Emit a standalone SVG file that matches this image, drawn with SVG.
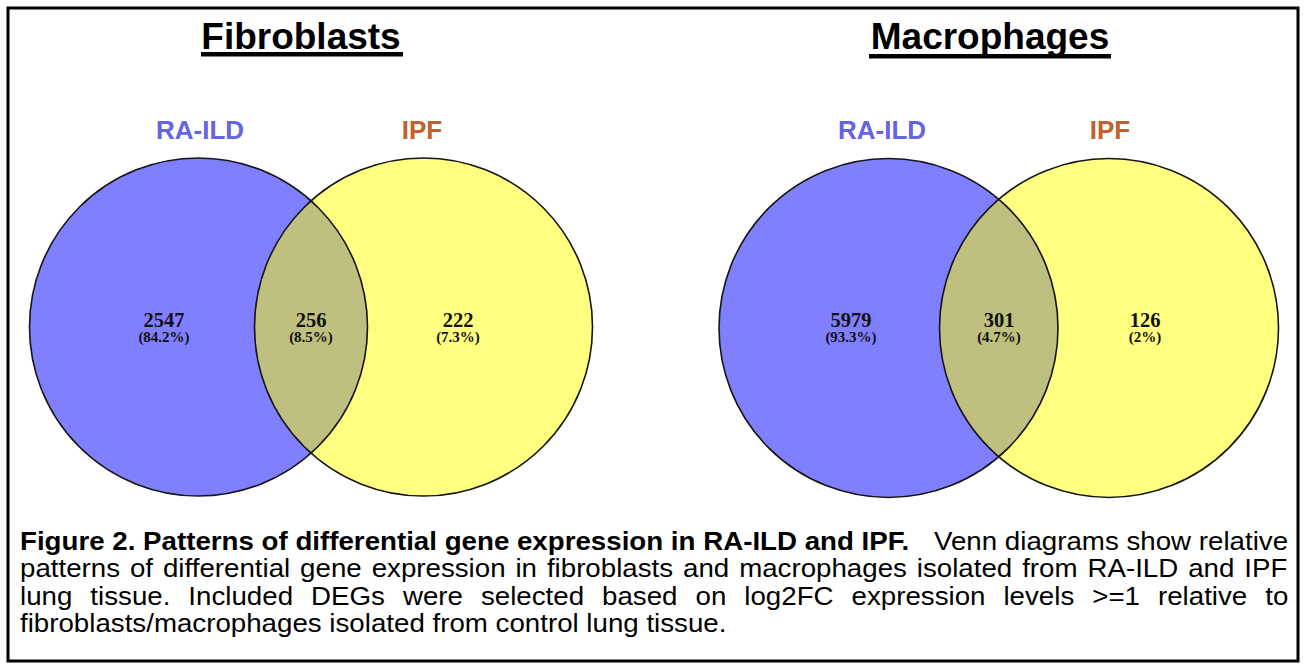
<svg xmlns="http://www.w3.org/2000/svg" width="1306" height="669" viewBox="0 0 1306 669">
  <defs>
    <style>
      .title { font-family: "Liberation Sans", Arial, sans-serif; font-weight: bold; font-size: 37px; fill: #000; text-anchor: middle; }
      .set-ra { font-family: "Liberation Sans", Arial, sans-serif; font-weight: bold; font-size: 26px; fill: #6464e4; text-anchor: middle; }
      .set-ipf { font-family: "Liberation Sans", Arial, sans-serif; font-weight: bold; font-size: 26px; fill: #c0622c; text-anchor: middle; }
      .num { font-family: "Liberation Serif", "Times New Roman", serif; font-weight: bold; font-size: 20.5px; fill: #111; text-anchor: middle; }
      .pct { font-family: "Liberation Serif", "Times New Roman", serif; font-weight: bold; font-size: 15px; fill: #111; text-anchor: middle; }
      .blue { fill: #7f7fff; }
      .yellow { fill: #ffff80; }
      .overlap { fill: #bfbf80; }
      .ring { fill: none; stroke: #151515; stroke-width: 1.6; }
      .cap { font-family: "Liberation Sans", Arial, sans-serif; font-size: 25px; fill: #000; }
      .capb { font-weight: bold; }
    </style>
    <clipPath id="clipFibL"><circle cx="198.5" cy="327" r="169"/></clipPath>
    <clipPath id="clipMacL"><circle cx="888.5" cy="328" r="169.5"/></clipPath>
  </defs>

  <rect x="0" y="0" width="1306" height="669" fill="#fff"/>
  <rect id="frame" x="8" y="8" width="1290" height="653" fill="none" stroke="#000" stroke-width="3"/>

  <g id="fibroblasts">
    <text class="title" x="301" y="49">Fibroblasts</text>
    <rect x="201" y="52" width="202" height="4.5" fill="#000"/>
    <text class="set-ra" x="200" y="139">RA-ILD</text>
    <text class="set-ipf" x="422" y="139">IPF</text>
    <circle class="blue" cx="198.5" cy="327" r="169"/>
    <circle class="yellow" cx="423.5" cy="327" r="169"/>
    <circle class="overlap" cx="423.5" cy="327" r="169" clip-path="url(#clipFibL)"/>
    <circle class="ring" cx="198.5" cy="327" r="169"/>
    <circle class="ring" cx="423.5" cy="327" r="169"/>
    <text class="num" x="164" y="326.5">2547</text>
    <text class="pct" x="164" y="341.5">(84.2%)</text>
    <text class="num" x="311" y="326.5">256</text>
    <text class="pct" x="311" y="341.5">(8.5%)</text>
    <text class="num" x="458" y="326.5">222</text>
    <text class="pct" x="458" y="341.5">(7.3%)</text>
  </g>

  <g id="macrophages">
    <text class="title" x="990" y="49">Macrophages</text>
    <rect x="869" y="54" width="242" height="4.5" fill="#000"/>
    <text class="set-ra" x="882" y="139">RA-ILD</text>
    <text class="set-ipf" x="1110" y="139">IPF</text>
    <circle class="blue" cx="888.5" cy="328" r="169.5"/>
    <circle class="yellow" cx="1109" cy="328" r="169.5"/>
    <circle class="overlap" cx="1109" cy="328" r="169.5" clip-path="url(#clipMacL)"/>
    <circle class="ring" cx="888.5" cy="328" r="169.5"/>
    <circle class="ring" cx="1109" cy="328" r="169.5"/>
    <text class="num" x="851" y="326.5">5979</text>
    <text class="pct" x="851" y="341.5">(93.3%)</text>
    <text class="num" x="999" y="326.5">301</text>
    <text class="pct" x="999" y="341.5">(4.7%)</text>
    <text class="num" x="1145" y="326.5">126</text>
    <text class="pct" x="1145" y="341.5">(2%)</text>
  </g>

  <g id="connectors"></g>

  <g id="caption" transform="scale(1.108,1)">
    <text class="cap capb" x="18.05" y="550">Figure 2. Patterns of differential gene expression in RA-ILD and IPF.</text>
    <text class="cap" x="1162.5" y="550" text-anchor="end">Venn diagrams show relative</text>
    <text class="cap" x="18.05" y="577.5" word-spacing="2">patterns of differential gene expression in fibroblasts and macrophages isolated from RA-ILD and IPF</text>
    <text class="cap" x="18.05" y="605" word-spacing="9.3">lung tissue. Included DEGs were selected based on log2FC expression levels &gt;=1 relative to</text>
    <text class="cap" x="18.05" y="632.5">fibroblasts/macrophages isolated from control lung tissue.</text>
  </g>
</svg>
